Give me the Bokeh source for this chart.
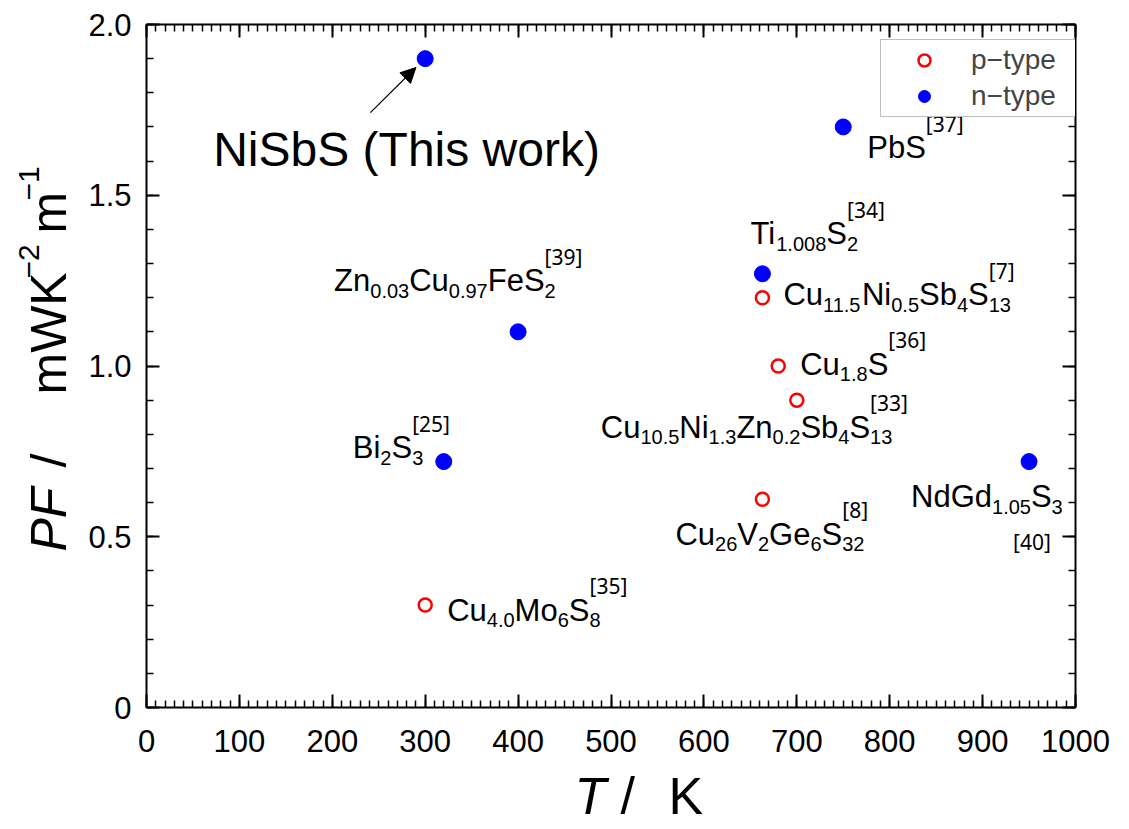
import re
from bokeh.plotting import figure
from bokeh.layouts import row, column
from bokeh.models import (Range1d, LinearAxis, SingleIntervalTicker, ColumnDataSource,
                          Arrow, NormalHead, NumeralTickFormatter)
from bokeh.core.properties import value
from bokeh.embed import file_html
from bokeh.resources import INLINE

# ---------------- data ----------------
p_T = [663, 680, 700, 663, 300]
p_PF = [1.20, 1.00, 0.90, 0.61, 0.30]
p_names = ["Cu_{11.5}Ni_{0.5}Sb_{4}S_{13}", "Cu_{1.8}S", "Cu_{10.5}Ni_{1.3}Zn_{0.2}Sb_{4}S_{13}",
           "Cu_{26}V_{2}Ge_{6}S_{32}", "Cu_{4.0}Mo_{6}S_{8}"]
p_refs = ["[7]", "[36]", "[33]", "[8]", "[35]"]

n_T = [300, 750, 663, 400, 320, 950]
n_PF = [1.90, 1.70, 1.27, 1.10, 0.72, 0.72]
n_names = ["NiSbS (This work)", "PbS", "Ti_{1.008}S_{2}", "Zn_{0.03}Cu_{0.97}FeS_{2}",
           "Bi_{2}S_{3}", "NdGd_{1.05}S_{3}"]
n_refs = ["", "[37]", "[34]", "[39]", "[25]", "[40]"]

x_ticks_interval = 100
y_ticks_interval = 0.5

# ---------------- layout / style ----------------
FONT = "Liberation Sans"
REF_FONT = "Noto Sans"
MAIN = 31
SUB = 20
REFS = 21
SUB_SHIFT = 10
REF_SHIFT = -24
YADJ = -14
BIAS = 0.4   # baseline correction (fraction of font size) for stand-alone title texts

# label offsets (px) of main baseline-left relative to the point
p_off = [(21, 11), (22, 12), (-196, 41), (-87, 49), (22, 19)]
n_off = [(-212, 105), (24, 35), (-12, -26), (-184, -37), (-91, 0), (-118, 49)]
n_ref_override = {5: (-16, 94)}

W = {'0': 556, '1': 556, '2': 556, '3': 556, '4': 556, '5': 556, '6': 556, '7': 556, '8': 556, '9': 556,
     '.': 278, ' ': 278, '(': 333, ')': 333, '[': 278, ']': 278, '-': 333, '/': 278,
     'A': 667, 'B': 667, 'C': 722, 'D': 722, 'E': 667, 'F': 611, 'G': 778, 'H': 722, 'I': 278,
     'K': 667, 'M': 833, 'N': 722, 'P': 667, 'S': 667, 'T': 611, 'V': 667, 'W': 944, 'Z': 611,
     'b': 556, 'd': 556, 'e': 556, 'h': 556, 'i': 222, 'k': 500, 'm': 833, 'n': 556, 'o': 556,
     'r': 333, 's': 500, 'u': 556, 'w': 722}


def tw(s, size):
    return sum(W.get(c, 556) for c in s) * size / 1000.0


YLAB_W = 82
FW, FH = 929, 683
BL, BR, BT, BB = 146 - YLAB_W, 40, 24, 58
MAIN_W = BL + FW + BR
MAIN_H = BT + FH + BB
XLAB_H = 62

p = figure(frame_width=FW, frame_height=FH, output_backend="svg", toolbar_location=None,
           x_range=Range1d(0, 1000), y_range=Range1d(0, 2.0),
           min_border_left=BL, min_border_right=BR, min_border_top=BT, min_border_bottom=BB,
           x_axis_location=None, y_axis_location=None)
p.grid.visible = False
p.outline_line_color = None
p.background_fill_color = "white"


def style_axis(ax, labels=True, interval=100, nminor=10):
    ax.ticker = SingleIntervalTicker(interval=interval, num_minor_ticks=nminor)
    ax.axis_line_color = "black"
    ax.axis_line_width = 2
    ax.major_tick_line_color = "black"
    ax.major_tick_line_width = 2
    ax.minor_tick_line_color = "black"
    ax.minor_tick_line_width = 1.5
    ax.major_tick_in = 13
    ax.major_tick_out = 0
    ax.minor_tick_in = 7
    ax.minor_tick_out = 0
    ax.major_label_text_font = FONT
    if labels:
        ax.major_label_text_font_size = "31px"
        ax.major_label_text_color = "black"
    else:
        ax.major_label_text_font_size = "1px"
        ax.major_label_text_color = None
        ax.major_label_standoff = 0


xb = LinearAxis()
style_axis(xb, True, x_ticks_interval, 10)
xb.major_label_standoff = 22
p.add_layout(xb, "below")
xt = LinearAxis()
style_axis(xt, False, x_ticks_interval, 10)
p.add_layout(xt, "above")
yl = LinearAxis()
style_axis(yl, True, y_ticks_interval, 5)
yl.formatter = NumeralTickFormatter(format="0.0")
yl.major_label_overrides = {0: "0"}
yl.major_label_standoff = 15
p.add_layout(yl, "left")
yr = LinearAxis()
style_axis(yr, False, y_ticks_interval, 5)
p.add_layout(yr, "right")

# ---------------- markers ----------------
rp = p.scatter(p_T, p_PF, size=13, marker="circle", fill_color="white", line_color="#FF0000",
               line_width=2.5, legend_label="p\u2212type")
rn = p.scatter(n_T, n_PF, size=16, marker="circle", fill_color="#0000FF", line_color="#0000FF",
               legend_label="n\u2212type")

# ---------------- labels ----------------
seg = dict(x=[], y=[], text=[], xo=[], yo=[], fs=[])
ref = dict(x=[], y=[], text=[], xo=[], yo=[])


def add_label(T, PF, name, refno, off, main_size, ref_override=None):
    parts = re.split(r'_\{([^}]*)\}', name)
    cx = off[0]
    last_sub_start = None
    for k, s in enumerate(parts):
        if not s:
            continue
        is_sub = (k % 2 == 1)
        size = SUB if is_sub else main_size
        seg["x"].append(T)
        seg["y"].append(PF)
        seg["text"].append(s)
        seg["xo"].append(cx)
        seg["yo"].append(off[1] + YADJ + (SUB_SHIFT if is_sub else 0))
        seg["fs"].append("%dpx" % size)
        last_sub_start = cx if is_sub else None
        cx += tw(s, size)
    if refno:
        if ref_override is not None:
            rx, ry = ref_override
        else:
            rx = last_sub_start if last_sub_start is not None else cx
            ry = off[1] + REF_SHIFT
        ref["x"].append(T)
        ref["y"].append(PF)
        ref["text"].append(refno)
        ref["xo"].append(rx)
        ref["yo"].append(ry + YADJ)


for i in range(len(p_T)):
    add_label(p_T[i], p_PF[i], p_names[i], p_refs[i], p_off[i], MAIN)
for i in range(len(n_T)):
    add_label(n_T[i], n_PF[i], n_names[i], n_refs[i], n_off[i], 48 if i == 0 else MAIN,
              n_ref_override.get(i))

p.text(x="x", y="y", text="text", x_offset="xo", y_offset="yo", text_font_size="fs",
       text_font=value(FONT), text_baseline="alphabetic", text_align="left", text_color="black",
       source=ColumnDataSource(seg))
p.text(x="x", y="y", text="text", x_offset="xo", y_offset="yo", text_font_size="%dpx" % REFS,
       text_font=value(REF_FONT), text_baseline="alphabetic", text_align="left", text_color="black",
       source=ColumnDataSource(ref))

# arrow to "This work"
p.add_layout(Arrow(x_start=n_T[0] - 59, y_start=n_PF[0] - 0.158, x_end=n_T[0] - 10, y_end=n_PF[0] - 0.026,
                   line_width=1.2, line_color="black",
                   end=NormalHead(size=15, fill_color="black", line_color="black")))

# ---------------- legend ----------------
lg = p.legend[0]
lg.location = (734, 590)
lg.label_text_font = FONT
lg.label_text_font_size = "28px"
lg.border_line_color = "#7f7f7f"
lg.border_line_width = 1.5
lg.padding = 4
lg.spacing = 4
lg.glyph_width = 78
lg.glyph_height = 30
lg.label_height = 30
lg.label_width = 100
lg.label_standoff = 8
lg.margin = 0
lg.background_fill_color = "white"
lg.background_fill_alpha = 1.0


# ---------------- axis titles (separate panels so they are not clipped) ----------------
def blank(w, h):
    f = figure(frame_width=w, frame_height=h, x_range=Range1d(0, w), y_range=Range1d(0, h),
               output_backend="svg", toolbar_location=None, title=None,
               min_border_left=0, min_border_right=0, min_border_top=0, min_border_bottom=0,
               x_axis_location=None, y_axis_location=None)
    f.grid.visible = False
    f.outline_line_color = None
    return f


# y title, reads bottom to top: (text, size, style, baseline x on page, start y on page)
ylab = blank(YLAB_W, MAIN_H)
ypieces = [("PF", 50, "italic", 68, 547), ("/", 50, "normal", 68, 463), ("mWK", 50, "normal", 68, 390),
           ("\u22122", 30, "normal", 40, 266), ("m", 50, "normal", 68, 229), ("\u22121", 30, "normal", 40, 188)]
yt = dict(x=[], y=[], text=[], fs=[], st=[])
for s, size, st, bxx, py in ypieces:
    yt["x"].append(bxx - BIAS * size)
    yt["y"].append(MAIN_H - py + BIAS * size)
    yt["text"].append(s)
    yt["fs"].append("%dpx" % size)
    yt["st"].append(st)
ylab.text(x="x", y="y", text="text", text_font_size="fs", text_font_style="st", angle=1.5707963,
          text_font=value(FONT), text_baseline="alphabetic", text_align="left", text_color="black",
          source=ColumnDataSource(yt))

# x title
xlab = blank(YLAB_W + MAIN_W, XLAB_H)
XT_SIZE = 52
xbase = XLAB_H - (816 - MAIN_H) + BIAS * XT_SIZE
xt_src = dict(x=[574, 620, 668], y=[xbase] * 3, text=["T", "/", "K"], st=["italic", "normal", "normal"])
xlab.text(x="x", y="y", text="text", text_font_size="%dpx" % XT_SIZE, text_font_style="st",
          text_font=value(FONT), text_baseline="alphabetic", text_align="left", text_color="black",
          source=ColumnDataSource(xt_src))

layout = column(row(ylab, p, spacing=0), xlab, spacing=0)
open("out.html", "w").write(file_html(layout, INLINE))
